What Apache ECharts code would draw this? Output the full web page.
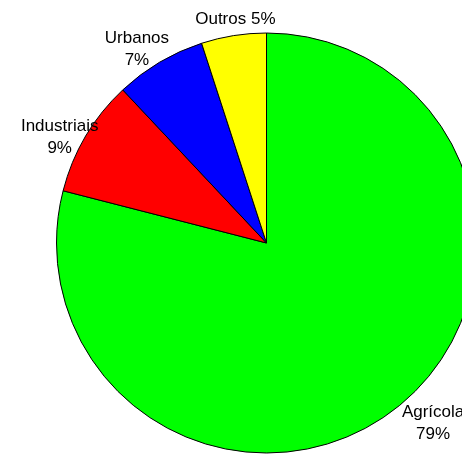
<!DOCTYPE html>
<html>
<head>
<meta charset="utf-8">
<script src="https://cdn.jsdelivr.net/npm/echarts@6/dist/echarts.min.js"></script>
<style>
  html, body { margin: 0; padding: 0; background: #fff; }
  #chart { width: 462px; height: 456px; }
</style>
</head>
<body>
<div id="chart"></div>
<script>
// Water use by sector (percent of total)
const categories = ['Agrícola', 'Industriais', 'Urbanos', 'Outros'];
const shares = [79, 9, 7, 5];
const labelSeparators = ['\n', '\n', '\n', ' '];

const sliceColors = ['#00ff00', '#ff0000', '#0000ff', '#ffff00'];
const pieCenter = [266.5, 243];
const pieRadius = 210;
const labelRadiusFactor = 1.1;
// small per-label nudges (px) away from the mid-angle anchor
const labelNudge = [[25, -2], [-8, 12], [-12, 5], [5, 4]];

const total = shares.reduce((a, b) => a + b, 0);
const midAngles = [];
let acc = 0;
shares.forEach(v => {
  midAngles.push((acc + v / 2) / total * 2 * Math.PI);
  acc += v;
});

const chart = echarts.init(document.getElementById('chart'), null, { renderer: 'canvas' });
chart.setOption({
  animation: false,
  backgroundColor: '#ffffff',
  series: [{
    type: 'pie',
    center: pieCenter,
    radius: pieRadius,
    startAngle: 90,
    clockwise: true,
    avoidLabelOverlap: false,
    silent: true,
    data: categories.map((name, i) => ({
      name: name,
      value: shares[i],
      itemStyle: { color: sliceColors[i] }
    })),
    itemStyle: { borderColor: '#000000', borderWidth: 1 },
    label: {
      show: true,
      position: 'outside',
      color: '#000000',
      fontFamily: 'Liberation Sans, Arial, sans-serif',
      fontSize: 17,
      lineHeight: 22.5,
      align: 'center',
      formatter: p => p.name + labelSeparators[p.dataIndex] + p.value + '%'
    },
    labelLine: { show: false },
    labelLayout: params => {
      const i = params.dataIndex;
      const a = midAngles[i];
      const r = pieRadius * labelRadiusFactor;
      return {
        x: pieCenter[0] + r * Math.sin(a) + labelNudge[i][0],
        y: pieCenter[1] - r * Math.cos(a) + labelNudge[i][1],
        align: 'center',
        verticalAlign: 'middle'
      };
    }
  }]
});
</script>
</body>
</html>
